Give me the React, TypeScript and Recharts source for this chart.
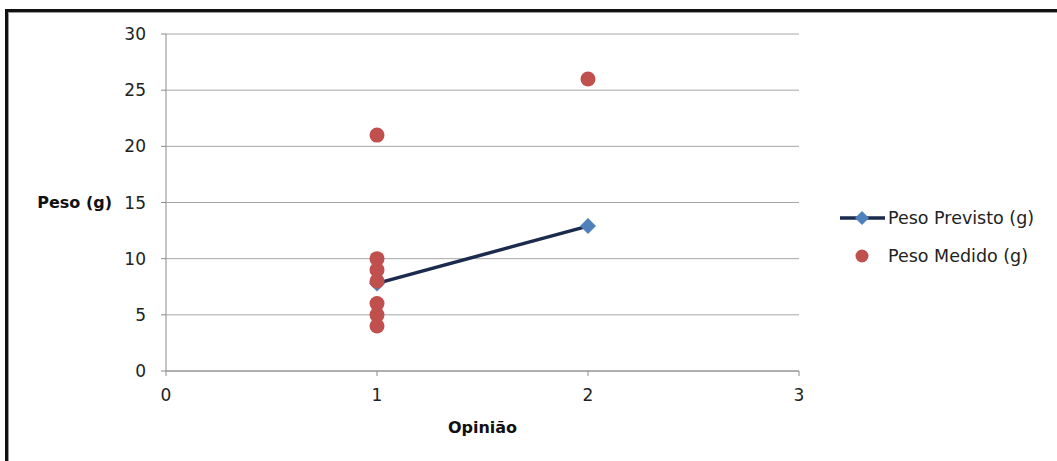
import React from 'react';
import {
  ScatterChart,
  Scatter,
  XAxis,
  YAxis,
  CartesianGrid,
  Legend,
  Label,
} from 'recharts';

// Opinião score for each measured sample and the measured weight (g)
const medidoOpiniao = [1, 1, 1, 1, 1, 1, 1, 2];
const medidoPeso = [21, 10, 9, 8, 6, 5, 4, 26];

// Predicted weight (g) at each opinião level
const previstoOpiniao = [1, 2];
const previstoPeso = [7.8, 12.9];

const xTicks = [0, 1, 2, 3];
const yTicks = [0, 5, 10, 15, 20, 25, 30];

const medidoData = medidoOpiniao.map((x, i) => ({ x, y: medidoPeso[i] }));
const previstoData = previstoOpiniao.map((x, i) => ({ x, y: previstoPeso[i] }));

const FONT = '"DejaVu Sans", sans-serif';
const GRID = '#A6A6A6';
const AXIS = '#8C8C8C';
const RED = '#C0504D';
const BLUE = '#4F81BD';
const NAVY = '#1B2B4D';

const Dot = (props: any) => (
  <circle cx={props.cx} cy={props.cy} r={7.5} fill={RED} />
);

const Diamond = (props: any) => {
  const { cx, cy } = props;
  const h = 8;
  return (
    <polygon
      points={`${cx},${cy - h} ${cx + h},${cy} ${cx},${cy + h} ${cx - h},${cy}`}
      fill={BLUE}
    />
  );
};

const legendItems = [
  { name: 'Peso Previsto (g)', kind: 'line' },
  { name: 'Peso Medido (g)', kind: 'dot' },
];

const LegendBox = () => (
  <div style={{ fontFamily: FONT, fontSize: 17.5, color: '#222' }}>
    {legendItems.map((it) => (
      <div
        key={it.name}
        style={{ display: 'flex', alignItems: 'center', height: 38 }}
      >
        <svg width={50} height={20} style={{ display: 'block' }}>
          {it.kind === 'line' ? (
            <>
              <line x1={2} y1={10} x2={47} y2={10} stroke={NAVY} strokeWidth={3.5} />
              <polygon points="24,3 31,10 24,17 17,10" fill={BLUE} />
            </>
          ) : (
            <circle cx={24} cy={10} r={6.5} fill={RED} />
          )}
        </svg>
        <span style={{ whiteSpace: 'nowrap' }}>{it.name}</span>
      </div>
    ))}
  </div>
);

export default function App() {
  return (
    <div
      style={{
        position: 'absolute',
        left: 0,
        top: 0,
        width: 1057,
        height: 461,
        background: '#fff',
        overflow: 'hidden',
      }}
    >
      <div
        style={{
          position: 'absolute',
          left: 5,
          top: 9,
          width: 1100,
          height: 500,
          borderTop: '3px solid #111',
          borderLeft: '3px solid #111',
        }}
      >
        <div
          style={{
            width: '100%',
            height: '100%',
            borderTop: '1px solid #9A9A9A',
            borderLeft: '1px solid #9A9A9A',
          }}
        />
      </div>
      <div style={{ position: 'absolute', left: 0, top: 0 }}>
        <ScatterChart
          width={1057}
          height={461}
          margin={{ top: 34, right: 258, bottom: 60, left: 106 }}
          style={{ fontFamily: FONT }}
        >
          <CartesianGrid vertical={false} stroke={GRID} strokeWidth={1} />
          <XAxis
            type="number"
            dataKey="x"
            domain={[0, 3]}
            ticks={xTicks}
            height={30}
            tickSize={5}
            tickMargin={13}
            axisLine={{ stroke: AXIS }}
            tickLine={{ stroke: AXIS }}
            tick={{ fill: '#222', fontSize: 17 }}
          >
            <Label
              value="Opinião"
              position="bottom"
              offset={21}
              style={{ fontWeight: 'bold', fontSize: 16, fill: '#111' }}
            />
          </XAxis>
          <YAxis
            type="number"
            dataKey="y"
            domain={[0, 30]}
            ticks={yTicks}
            width={60}
            tickSize={5}
            tickMargin={15}
            axisLine={{ stroke: AXIS }}
            tickLine={{ stroke: AXIS }}
            tick={{ fill: '#222', fontSize: 17 }}
          >
            <Label
              value="Peso (g)"
              position="left"
              offset={-6}
              style={{ fontWeight: 'bold', fontSize: 16, fill: '#111' }}
            />
          </YAxis>
          <Legend
            content={<LegendBox />}
            layout="horizontal"
            verticalAlign="middle"
            align="center"
            wrapperStyle={{ left: 838, top: 199, width: 220 }}
          />
          <Scatter
            name="Peso Previsto (g)"
            data={previstoData}
            line={{ stroke: NAVY, strokeWidth: 3.5 }}
            lineType="joint"
            shape={<Diamond />}
            isAnimationActive={false}
          />
          <Scatter
            name="Peso Medido (g)"
            data={medidoData}
            shape={<Dot />}
            isAnimationActive={false}
          />
        </ScatterChart>
      </div>
    </div>
  );
}
